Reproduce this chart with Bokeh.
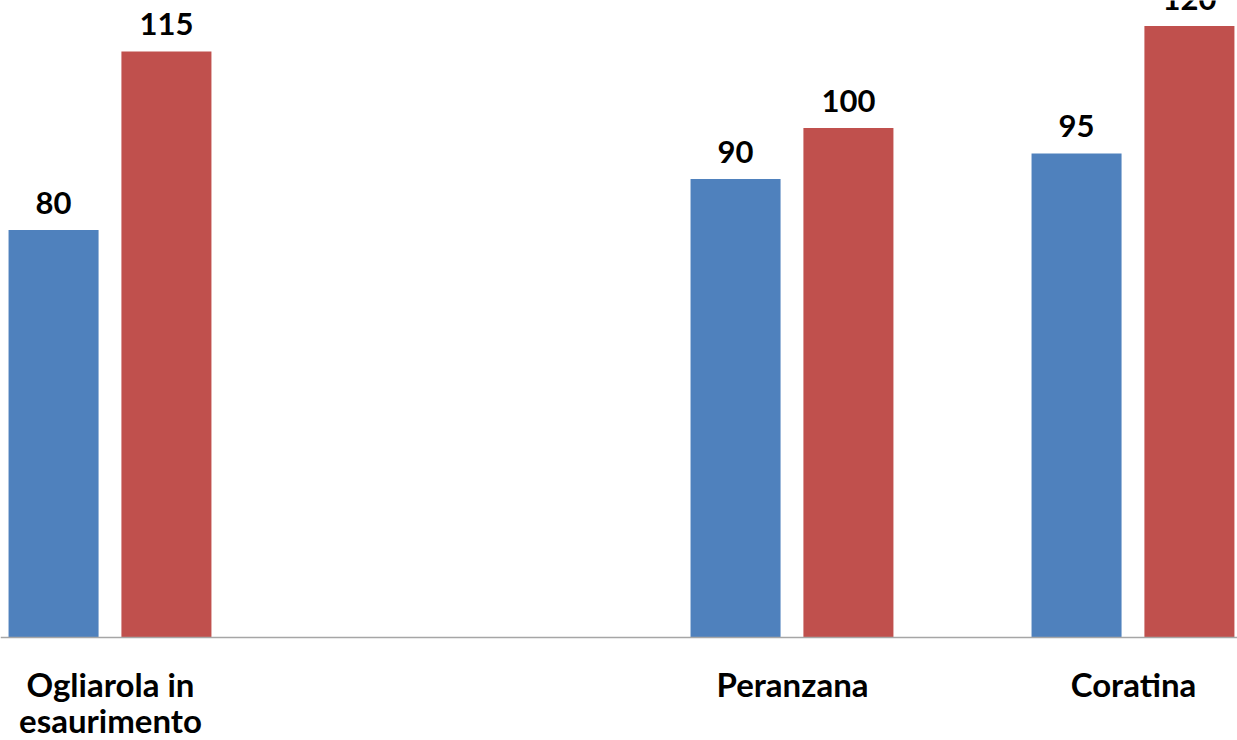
from bokeh.plotting import figure
from bokeh.models import Range1d, ColumnDataSource, Span
from bokeh.core.properties import value
from bokeh.embed import file_html
from bokeh.resources import INLINE

categories = ["Ogliarola in\nesaurimento", "", "Peranzana", "Coratina"]
series_blue = [80, None, 90, 95]
series_red = [115, None, 100, 120]

BLUE = "#4F81BD"
RED = "#C0504D"
FONT = "Lato"
PX = 5.095  # pixels per unit

p = figure(width=1237, height=740, output_backend="svg", toolbar_location=None,
           x_range=Range1d(-0.3226, 3.305), y_range=Range1d(-103 / PX, 637 / PX),
           min_border_left=0, min_border_right=0, min_border_top=0,
           min_border_bottom=0)
p.outline_line_color = None
p.grid.visible = False
p.axis.visible = False
p.background_fill_color = "white"
p.border_fill_color = "white"

idx = [i for i in range(len(categories))]
bx = [i - 0.167 for i, v in zip(idx, series_blue) if v is not None]
bv = [v for v in series_blue if v is not None]
rx = [i + 0.164 for i, v in zip(idx, series_red) if v is not None]
rv = [v for v in series_red if v is not None]

off = 17 / PX + 2.0
src_b = ColumnDataSource(dict(x=bx, top=bv, ly=[v + off for v in bv], lab=[str(v) for v in bv]))
src_r = ColumnDataSource(dict(x=rx, top=rv, ly=[v + off for v in rv], lab=[str(v) for v in rv]))

p.vbar(x="x", top="top", width=0.264, bottom=0, source=src_b, fill_color=BLUE, line_color=None)
p.vbar(x="x", top="top", width=0.264, bottom=0, source=src_r, fill_color=RED, line_color=None)

for s in (src_b, src_r):
    p.text(x="x", y="ly", text="lab", source=s, text_align="center", text_baseline="alphabetic",
           text_font=value(FONT), text_font_style="bold", text_font_size="31px", text_color="black")

# baseline (category axis line)
p.add_layout(Span(location=0, dimension="width", line_color="#A6A6A6", line_width=1.5))

# category labels
cx, cy, ct = [], [], []
for i, c in zip(idx, categories):
    for k, line in enumerate(c.split("\n")):
        if line:
            cx.append(i)
            cy.append(-46 / PX - k * 36 / PX)
            ct.append(line)
p.text(x=cx, y=cy, text=ct, text_align="center", text_baseline="alphabetic",
       text_font=value(FONT), text_font_style="bold", text_font_size="33px", text_color="black")

open("out.html", "w").write(file_html(p, INLINE))
